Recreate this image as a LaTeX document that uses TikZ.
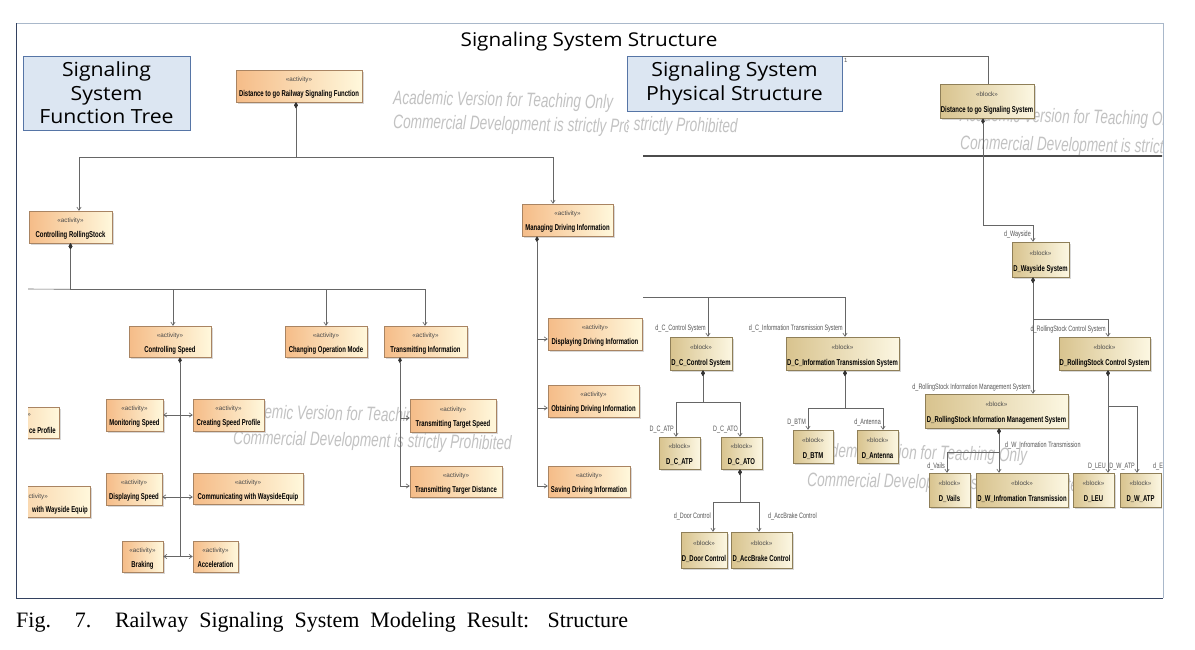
\documentclass[tikz,border=0pt]{standalone}
\usepackage{fontspec}
\setmainfont{Liberation Serif}
\newfontfamily\ttlfont[FakeStretch=1.09]{Open Sans}
\newfontfamily\stfont{Liberation Sans}
\newfontfamily\bxfont[FakeStretch=0.70]{Liberation Sans}
\newfontfamily\wmfont[FakeStretch=0.70]{Liberation Sans}
\usetikzlibrary{arrows.meta,shadows}
\definecolor{actL}{HTML}{F5BC88}
\definecolor{actR}{HTML}{FFF8DC}
\definecolor{actB}{HTML}{A98462}
\definecolor{blkL}{HTML}{D8C38E}
\definecolor{blkR}{HTML}{FCF7E2}
\definecolor{blkB}{HTML}{8F7F58}
\definecolor{lineC}{HTML}{666666}
\definecolor{lblC}{HTML}{555555}
\definecolor{stC}{HTML}{4A4A4A}
\definecolor{wmC}{HTML}{C2C2C2}
\definecolor{bbF}{HTML}{DCE6F2}
\definecolor{bbB}{HTML}{5675A6}
\definecolor{frT}{HTML}{A9B8CA}
\definecolor{frD}{HTML}{33415F}
\newcommand\acttxt[1]{\fontsize{6.3}{9}\selectfont\begin{tabular}{@{}c@{}}\rule{0pt}{9.1pt}{\stfont\color{stC}«activity»}\\[5.8pt]{\bxfont\bfseries\fontsize{8.5}{9}\selectfont #1}\end{tabular}}
\newcommand\blktxt[1]{\fontsize{6.3}{9}\selectfont\begin{tabular}{@{}c@{}}\rule{0pt}{10pt}{\stfont\color{stC}«block»}\\[7.3pt]{\bxfont\bfseries\fontsize{8.5}{9}\selectfont #1}\end{tabular}}
\tikzset{
  umlbox/.style={rectangle, inner sep=0.5pt, line width=0.5pt,
    drop shadow={shadow xshift=1.6pt, shadow yshift=-1.6pt, fill=black!30}},
  act/.style={umlbox, draw=actB, left color=actL, right color=actR},
  blk/.style={umlbox, draw=blkB, left color=blkL, right color=blkR},
  conn/.style={draw=lineC, line width=0.65pt},
  comparr/.style={conn, {Diamond[length=6pt,width=3.6pt,color=black!80]}-{Straight Barb[length=3.2pt,width=4.4pt]}},
  arr/.style={conn, -{Straight Barb[length=3.2pt,width=4.4pt]}},
  comp/.style={conn, {Diamond[length=6pt,width=3.6pt,color=black!80]}-},
  lbl/.style={font=\bxfont\fontsize{7.8}{8}\selectfont, text=lblC, inner sep=0pt, anchor=base east},
  lblw/.style={lbl, anchor=base west},
  stx/.style={font=\stfont\fontsize{6.3}{7}\selectfont, text=stC, anchor=base east, inner sep=0pt},
  nmx/.style={font=\bxfont\bfseries\fontsize{8.5}{9}\selectfont, anchor=base east, inner sep=0pt},
  wm/.style={font=\wmfont\itshape\fontsize{19.5}{20}\selectfont, text=wmC, inner sep=0pt, anchor=base west, rotate=-1.2},
  bluebox/.style={draw=bbB, fill=bbF, line width=0.8pt, align=center, inner sep=0pt,
    font=\ttlfont\fontsize{19.5}{23.5}\selectfont}
}
\begin{document}
\begin{tikzpicture}[x=1pt,y=-1pt]
\useasboundingbox (0,0) rectangle (1195,649);
\fill[white] (0,0) rectangle (1195,649);

% ================= watermarks of the two views =================
\begin{scope}
\clip (28,24) rectangle (627,597);
\node[wm] (wm1a) at (393,104) {Academic Version for Teaching Only};
\node[wm] (wm1b) at (393,128) {Commercial Development is strictly Prohibited};
\end{scope}
\begin{scope}
\clip (627,24) rectangle (1162,597);
\node[wm] (wm2a) at (459,102) {Academic Version for Teaching Only};
\node[wm] (wm2b) at (459,127) {Commercial Development is strictly Prohibited};
\end{scope}

% ================= left panel: function tree =================
\begin{scope}
\clip (28,24) rectangle (645,597);
\node[wm] (wm5a) at (233,418) {Academic Version for Teaching Only};
\node[wm] (wm5b) at (233,444) {Commercial Development is strictly Prohibited};

\node[act, minimum width=126pt, minimum height=32pt] (topf) at (299,86) {\acttxt{Distance to go Railway Signaling Function}};
\node[act, minimum width=83pt, minimum height=32pt] (crs) at (70.5,227) {\acttxt{Controlling RollingStock}};
\node[act, minimum width=91pt, minimum height=32pt] (mdi) at (567.5,220) {\acttxt{Managing Driving Information}};
\node[act, minimum width=82pt, minimum height=31pt] (cs) at (170,341.5) {\acttxt{Controlling Speed}};
\node[act, minimum width=82pt, minimum height=31pt] (com) at (326,341.5) {\acttxt{Changing Operation Mode}};
\node[act, minimum width=83pt, minimum height=31pt] (ti) at (425.5,341.5) {\acttxt{Transmitting Information}};
\node[act, minimum width=94pt, minimum height=32pt] (ddi) at (595,334) {\acttxt{Displaying Driving Information}};
\node[act, minimum width=91pt, minimum height=32pt] (odi) at (593.5,401) {\acttxt{Obtaining Driving Information}};
\node[act, minimum width=82pt, minimum height=31pt] (sdi) at (589,481.5) {\acttxt{Saving Driving Information}};
\node[act, minimum width=86pt, minimum height=33pt] (tts) at (453,415.5) {\acttxt{Transmitting Target Speed}};
\node[act, minimum width=92pt, minimum height=31pt] (ttd) at (456,481.5) {\acttxt{Transmitting Targer Distance}};
\node[act, minimum width=57pt, minimum height=32pt] (ms) at (134.5,415) {\acttxt{Monitoring Speed}};
\node[act, minimum width=71pt, minimum height=32pt] (csp) at (228.5,415) {\acttxt{Creating Speed Profile}};
\node[act, minimum width=56pt, minimum height=32pt] (ds) at (134,489) {\acttxt{Displaying Speed}};
\node[act, minimum width=110pt, minimum height=31pt] (cwe) at (248,488.5) {\acttxt{Communicating with WaysideEquip}};
\node[act, minimum width=41pt, minimum height=31pt] (br) at (142.5,556.5) {\acttxt{Braking}};
\node[act, minimum width=45pt, minimum height=31pt] (acc) at (215.5,556.5) {\acttxt{Acceleration}};

% boxes cut by the left edge of the view
\node[act, minimum width=90pt, minimum height=31pt] (cpbox) at (14,422.5) {};
\node[stx] (cpst) at (31,416) {»};
\node[nmx] (cpnm) at (56,433) {ce Profile};
\node[act, minimum width=120pt, minimum height=31pt] (cwbox) at (30,501.5) {};
\node[stx] (cwst) at (48,498) {ctivity»};
\node[nmx] (cwnm) at (88,512) {with Wayside Equip};

% connectors
\draw[comparr] ([xshift=-3pt]topf.south) -- ++(0,55) -| ([xshift=8.5pt]crs.north);
\draw[comparr] ([xshift=-3pt]topf.south) -- ++(0,55) -| ([xshift=-14.5pt]mdi.north);

\draw[comparr] (crs.south) -- ++(0,46) -| ([xshift=3pt]cs.north);
\draw[comparr] (crs.south) -- ++(0,46) -| (com.north);
\draw[comparr] (crs.south) -- ++(0,46) -| ([xshift=-0.5pt]ti.north);
\draw[conn] (crs.south) ++(0,46) -- (20,289);

\coordinate (csv) at ([xshift=10pt]cs.south);
\coordinate (dsin) at ([yshift=-8pt]ds.east);
\coordinate (cwein) at ([yshift=-8.5pt]cwe.west);
\draw[comp] (csv) -- ++(0,200);
\draw[arr] (ms.east -| csv) -- (ms.east);
\draw[arr] (csp.west -| csv) -- (csp.west);
\draw[arr] (dsin -| csv) -- (dsin);
\draw[arr] (cwein -| csv) -- (cwein);
\draw[arr] (br.east -| csv) -- (br.east);
\draw[arr] (acc.west -| csv) -- (acc.west);

\coordinate (tiv) at ([xshift=-25.5pt]ti.south);
\coordinate (ttsin) at ([yshift=-2.5pt]tts.west);
\coordinate (ttdin) at ([yshift=-4.5pt]ttd.west);
\draw[comparr] (tiv) |- (ttdin);
\draw[arr] (ttsin -| tiv) -- (ttsin);

\coordinate (mdv) at ([xshift=-30.5pt]mdi.south);
\coordinate (ddiin) at ([yshift=-5pt]ddi.west);
\coordinate (odiin) at ([yshift=-7pt]odi.west);
\coordinate (sdiin) at ([yshift=-4.5pt]sdi.west);
\draw[comparr] (mdv) |- (sdiin);
\draw[arr] (ddiin -| mdv) -- (ddiin);
\draw[arr] (odiin -| mdv) -- (odiin);
\end{scope}

% ================= right panel: physical structure =================
\begin{scope}
\clip (643,24) rectangle (1162,597);
\node[wm] (wm3a) at (960,121) {Academic Version for Teaching Only};
\node[wm] (wm3b) at (960,149) {Commercial Development is strictly Prohibited};
\node[wm] (wm4a) at (807,457) {Academic Version for Teaching Only};
\node[wm] (wm4b) at (807,486) {Commercial Development is strictly Prohibited};

\coordinate (hl1) at (640,156);
\coordinate (hl2) at (1170,156);
\draw[draw=black!70, line width=1.2pt] (hl1) -- (hl2);

\node[blk, minimum width=94pt, minimum height=34pt] (dsys) at (987,101) {\blktxt{Distance to go Signaling System}};
\node[blk, minimum width=57pt, minimum height=35pt] (dws) at (1040.5,259.5) {\blktxt{D\_Wayside System}};
\node[blk, minimum width=91pt, minimum height=33pt] (drcs) at (1104.5,353.5) {\blktxt{D\_RollingStock Control System}};
\node[blk, minimum width=143pt, minimum height=34pt] (drim) at (996.5,411) {\blktxt{D\_RollingStock Information Management System}};
\node[blk, minimum width=41pt, minimum height=34pt] (dv) at (949.5,490) {\blktxt{D\_Vails}};
\node[blk, minimum width=92pt, minimum height=34pt] (dwit) at (1022,490) {\blktxt{D\_W\_Infromation Transmission}};
\node[blk, minimum width=41pt, minimum height=34pt] (dleu) at (1093.5,490) {\blktxt{D\_LEU}};
\node[blk, minimum width=41pt, minimum height=34pt] (dwatp) at (1140.5,490) {\blktxt{D\_W\_ATP}};
\node[blk, minimum width=62pt, minimum height=33pt] (dccs) at (701,353.5) {\blktxt{D\_C\_Control System}};
\node[blk, minimum width=113pt, minimum height=33pt] (dcits) at (842.5,353.5) {\blktxt{D\_C\_Information Transmission System}};
\node[blk, minimum width=41pt, minimum height=32pt] (dcatp) at (679.5,453) {\blktxt{D\_C\_ATP}};
\node[blk, minimum width=41pt, minimum height=32pt] (dcato) at (741.5,453) {\blktxt{D\_C\_ATO}};
\node[blk, minimum width=46pt, minimum height=36pt] (ddc) at (704,550) {\blktxt{D\_Door Control}};
\node[blk, minimum width=61pt, minimum height=36pt] (dabc) at (761.5,550) {\blktxt{D\_AccBrake Control}};
\node[blk, minimum width=40pt, minimum height=33pt] (dbtm) at (813,446.5) {\blktxt{D\_BTM}};
\node[blk, minimum width=41pt, minimum height=33pt] (dant) at (877.5,446.5) {\blktxt{D\_Antenna}};

\draw[comparr] ([xshift=-4pt]dsys.south) -- ++(0,107) -| ([xshift=-7.5pt]dws.north);
\coordinate (dwv) at ([xshift=-7.5pt]dws.south);
\draw[comparr] (dwv) -- ([xshift=36.5pt]drim.north);
\draw[comparr] (dwv) -- ++(0,42) -| ([xshift=3.5pt]drcs.north);
\coordinate (drv) at ([xshift=2.5pt]drim.south);
\draw[comparr] (drv) -- ([xshift=-23pt]dwit.north);
\draw[comparr] (drv) -- ++(0,24) -| ([xshift=-2.5pt]dv.north);
\coordinate (dcv) at ([xshift=3.5pt]drcs.south);
\draw[comparr] (dcv) -- ([xshift=14.5pt]dleu.north);
\draw[comparr] (dcv) -- ++(0,36) -| ([xshift=-3.5pt]dwatp.north);

\coordinate (hl3) at (640,297);
\draw[arr] (hl3) -| ([xshift=7pt]dccs.north);
\draw[arr] (hl3) -| ([xshift=2.5pt]dcits.north);
\coordinate (ccv) at ([xshift=2pt]dccs.south);
\draw[comparr] (ccv) -- ++(0,32) -| ([xshift=-3.5pt]dcatp.north);
\draw[comparr] (ccv) -- ++(0,32) -| ([xshift=-1.5pt]dcato.north);
\coordinate (cov) at ([xshift=-1.5pt]dcato.south);
\draw[comparr] (cov) -- ++(0,33) -| ([xshift=9pt]ddc.north);
\draw[comparr] (cov) -- ++(0,33) -| ([xshift=-2.5pt]dabc.north);
\coordinate (civ) at ([xshift=2.5pt]dcits.south);
\draw[comparr] (civ) -- ++(0,38) -| ([xshift=-5pt]dbtm.north);
\draw[comparr] (civ) -- ++(0,38) -| ([xshift=5.5pt]dant.north);

\node[lbl] (l1) at (1031,236) {d\_Wayside};
\node[lbl] (l2) at (1106,331.5) {d\_RollingStock Control System};
\node[lbl] (l3) at (1031,389.5) {d\_RollingStock Information Management System};
\node[lbl] (l4) at (945,468.5) {d\_Vails};
\node[lblw] (l5) at (1005,447.5) {d\_W\_Infromation Transmission};
\node[lbl] (l6) at (1106,468.5) {D\_LEU};
\node[lbl] (l7) at (1135,468.5) {D\_W\_ATP};
\node[lblw] (l8) at (1153,468.5) {d\_E};
\node[lbl] (l9) at (706,330.5) {d\_C\_Control System};
\node[lbl] (l10) at (843,330.5) {d\_C\_Information Transmission System};
\node[lbl] (l11) at (674,431.5) {D\_C\_ATP};
\node[lbl] (l12) at (738,431.5) {D\_C\_ATO};
\node[lbl] (l13) at (806,424.5) {D\_BTM};
\node[lbl] (l14) at (881,424.5) {d\_Antenna};
\node[lbl] (l15) at (711,518.5) {d\_Door Control};
\node[lblw] (l16) at (768,518.5) {d\_AccBrake Control};
\end{scope}

% ================= titles, frame, caption =================
\node[font=\ttlfont\fontsize{19}{21}\selectfont, inner sep=0pt, anchor=base] (title) at (589,46) {Signaling System Structure};
\node[bluebox, minimum width=167pt, minimum height=74pt] (fbox) at (106.5,93) {Signaling\\System\\Function Tree};
\node[bluebox, minimum width=215pt, minimum height=55pt] (pbox) at (734.5,83.5) {Signaling System\\Physical Structure};
\draw[conn] ([yshift=-1pt]pbox.north east) -| ([xshift=1pt]dsys.north);
\node[font=\stfont\fontsize{6}{7}\selectfont, text=lblC, anchor=north west, inner sep=0pt] (one) at (844,58) {1};

\draw[frT, line width=1pt] (16,23) -- (1163,23) -- (1163,598);
\draw[frD, line width=1pt] (16,23) -- (16,598) -- (1163,598);

\node[anchor=base west, inner sep=0pt, font=\fontsize{22}{24}\selectfont] (cap) at (16,627)
  {\makebox[612pt][s]{Fig. 7. Railway Signaling System Modeling Result: Structure}};
\end{tikzpicture}
\end{document}
